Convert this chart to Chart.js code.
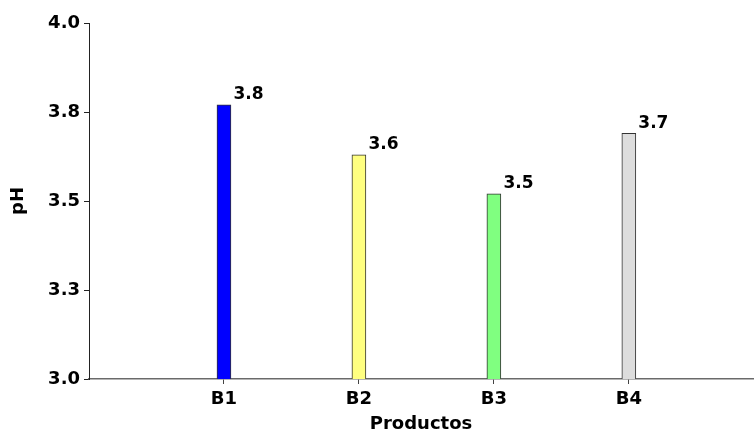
<!DOCTYPE html>
<html>
<head>
<meta charset="utf-8">
<script src="https://cdn.jsdelivr.net/npm/chart.js@4"></script>
<style>
  html, body { margin: 0; padding: 0; background: #fff; }
  #wrap { width: 754px; height: 436px; }
</style>
</head>
<body>
<div id="wrap"><canvas id="phChart" width="754" height="436"></canvas></div>
<script>
const productos = ["B1", "B2", "B3", "B4"];
const phValues = [3.77, 3.63, 3.52, 3.69];
const barColors = ["#0000ff", "#ffff80", "#80ff80", "#dddddd"];
const yTicks = [3.0, 3.25, 3.5, 3.75, 4.0];

const FONT = "'DejaVu Sans', Verdana, sans-serif";

// value labels drawn just above and to the right of each bar
const valueLabels = {
  id: "valueLabels",
  afterDatasetsDraw(chart) {
    const ctx = chart.ctx;
    const meta = chart.getDatasetMeta(0);
    ctx.save();
    ctx.font = "bold 17px " + FONT;
    ctx.fillStyle = "#000";
    ctx.textAlign = "left";
    ctx.textBaseline = "middle";
    meta.data.forEach((bar, i) => {
      ctx.fillText(phValues[i].toFixed(1), bar.x + 9.5, bar.y - 10);
    });
    ctx.restore();
  },
};

new Chart(document.getElementById("phChart"), {
  type: "bar",
  data: {
    datasets: [
      {
        data: phValues.map((v, i) => ({ x: i + 1, y: v })),
        backgroundColor: barColors,
        borderColor: "#333",
        borderWidth: 1,
        borderSkipped: false,
        barThickness: 14,
      },
    ],
  },
  options: {
    responsive: false,
    animation: false,
    layout: { padding: { top: 23, right: 1, left: 0, bottom: 0 } },
    plugins: { legend: { display: false }, tooltip: { enabled: false } },
    scales: {
      x: {
        type: "linear",
        offset: false,
        min: 0,
        max: 4.92,
        afterBuildTicks: (scale) => {
          scale.ticks = productos.map((_, i) => ({ value: i + 1 }));
        },
        afterFit: (scale) => { scale.height = 57; },
        ticks: {
          autoSkip: false,
          maxRotation: 0,
          padding: 5,
          color: "#000",
          font: { family: FONT, size: 18, weight: "bold" },
          callback: (v) => productos[v - 1],
        },
        grid: {
          offset: false,
          drawOnChartArea: false,
          drawTicks: true,
          tickLength: 5,
          color: "#444",
        },
        border: { color: "#6a6a6a", width: 1.5 },
        title: {
          display: true,
          text: "Productos",
          color: "#000",
          font: { family: FONT, size: 18, weight: "bold" },
          padding: { top: 0, bottom: 1 },
        },
      },
      y: {
        min: 3.0,
        max: 4.0,
        afterBuildTicks: (scale) => {
          scale.ticks = yTicks.map((v) => ({ value: v }));
        },
        afterFit: (scale) => { scale.width = 89; },
        ticks: {
          padding: 4,
          color: "#000",
          font: { family: FONT, size: 18, weight: "bold" },
          callback: (v) => v.toFixed(1),
        },
        grid: {
          drawOnChartArea: false,
          drawTicks: true,
          tickLength: 5,
          color: "#222",
        },
        border: { color: "#222", width: 1 },
        title: {
          display: true,
          text: "pH",
          color: "#000",
          font: { family: FONT, size: 18, weight: "bold" },
          padding: { top: 8, bottom: 0 },
        },
      },
    },
  },
  plugins: [valueLabels],
});
</script>
</body>
</html>
